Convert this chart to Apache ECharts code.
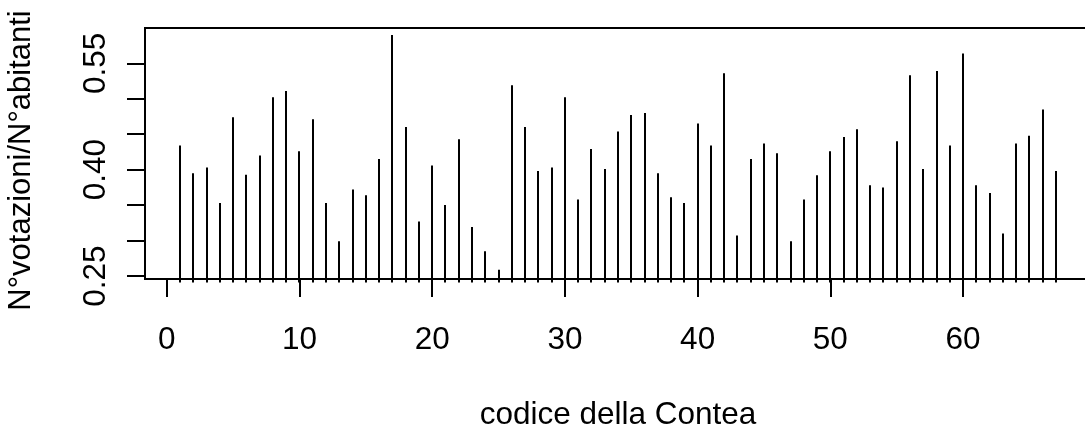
<!DOCTYPE html>
<html>
<head>
<meta charset="utf-8">
<title>codice della Contea</title>
<script src="https://cdn.jsdelivr.net/npm/echarts@6/dist/echarts.min.js"></script>
<style>
  html, body { margin: 0; padding: 0; background: #fff; }
  #chart { width: 1085px; height: 425px; }
</style>
</head>
<body>
<div id="chart"></div>
<script>
// County codes and the vote/inhabitant ratio for each county
const countyCodes = [
  1, 2, 3, 4, 5, 6, 7, 8, 9, 10,
  11, 12, 13, 14, 15, 16, 17, 18, 19, 20,
  21, 22, 23, 24, 25, 26, 27, 28, 29, 30,
  31, 32, 33, 34, 35, 36, 37, 38, 39, 40,
  41, 42, 43, 44, 45, 46, 47, 48, 49, 50,
  51, 52, 53, 54, 55, 56, 57, 58, 59, 60,
  61, 62, 63, 64, 65, 66, 67
];
const ratios = [
  0.434, 0.395, 0.403, 0.353, 0.474, 0.393, 0.420, 0.502, 0.511, 0.426,
  0.471, 0.353, 0.299, 0.372, 0.364, 0.415, 0.590, 0.460, 0.327, 0.406,
  0.350, 0.443, 0.319, 0.285, 0.259, 0.519, 0.460, 0.398, 0.403, 0.502,
  0.358, 0.429, 0.401, 0.454, 0.477, 0.480, 0.395, 0.361, 0.353, 0.465,
  0.434, 0.536, 0.307, 0.415, 0.437, 0.423, 0.299, 0.358, 0.392, 0.426,
  0.446, 0.457, 0.378, 0.375, 0.440, 0.533, 0.401, 0.539, 0.434, 0.564,
  0.378, 0.367, 0.310, 0.437, 0.448, 0.485, 0.398
];

// Axis ticks and labels
const xTicks = [0, 10, 20, 30, 40, 50, 60];
const yTicks = [0.25, 0.30, 0.35, 0.40, 0.45, 0.50, 0.55];
const yLabels = [0.25, 0.40, 0.55];

const xTitle = 'codice della Contea';
const yTitle = 'N°votazioni/N°abitanti';

const X_MIN = -1.64, X_MAX = 69.64;
const Y_MIN = 0.2458, Y_MAX = 0.5998;

const FONT = '"Liberation Sans", Arial, Helvetica, sans-serif';
const FONT_SIZE = 31.5;

const chart = echarts.init(document.getElementById('chart'), null, { renderer: 'canvas' });

chart.setOption({
  backgroundColor: '#fff',
  animation: false,
  grid: {
    left: 145, top: 28, right: -6, bottom: 146,
    containLabel: false,
    outerBoundsMode: 'none',
    show: true,
    borderColor: '#000',
    borderWidth: 2,
    backgroundColor: 'transparent'
  },
  xAxis: {
    type: 'value',
    min: X_MIN,
    max: X_MAX,
    name: xTitle,
    nameLocation: 'middle',
    nameGap: 120,
    nameTextStyle: { color: '#000', fontFamily: FONT, fontSize: FONT_SIZE },
    axisLine: { show: false, onZero: false },
    splitLine: { show: false },
    axisTick: {
      show: true,
      length: 18,
      customValues: xTicks,
      lineStyle: { color: '#000', width: 2 }
    },
    axisLabel: {
      show: true,
      customValues: xTicks,
      margin: 45,
      color: '#000',
      fontFamily: FONT,
      fontSize: FONT_SIZE,
      formatter: v => String(Math.round(v))
    }
  },
  yAxis: {
    type: 'value',
    min: Y_MIN,
    max: Y_MAX,
    name: yTitle,
    nameLocation: 'middle',
    nameRotate: 90,
    nameGap: 108,
    nameTextStyle: {
      color: '#000', fontFamily: FONT, fontSize: 31,
      padding: [0, 14, 0, 0]
    },
    axisLine: { show: false, onZero: false },
    splitLine: { show: false },
    axisTick: {
      show: true,
      length: 18,
      customValues: yTicks,
      lineStyle: { color: '#000', width: 2 }
    },
    axisLabel: {
      show: true,
      customValues: yLabels,
      rotate: 90,
      margin: 33,
      color: '#000',
      fontFamily: FONT,
      fontSize: FONT_SIZE,
      formatter: v => v.toFixed(2)
    }
  },
  series: [{
    type: 'custom',
    clip: false,
    data: countyCodes.map((c, i) => [c, ratios[i]]),
    encode: { x: 0, y: 1 },
    renderItem: function (params, api) {
      const top = api.coord([api.value(0), api.value(1)]);
      const base = api.coord([api.value(0), Y_MIN]);
      const x = Math.round(top[0]);
      return {
        type: 'line',
        shape: { x1: x, y1: base[1] + 3.5, x2: x, y2: top[1] },
        style: { stroke: '#000', lineWidth: 2 }
      };
    }
  }]
});
</script>
</body>
</html>
